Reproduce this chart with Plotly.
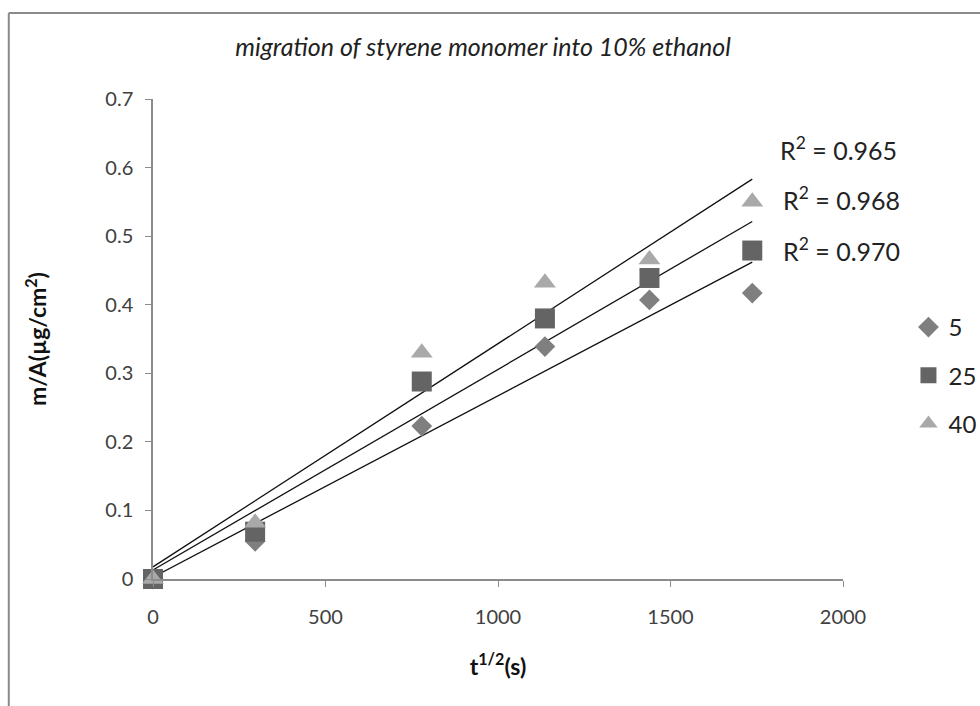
import numpy as np
import plotly.graph_objects as go

# ---- data ----
x_vals = [0, 296, 779, 1136, 1439, 1737]
series_names = ["5", "25", "40"]
y_5 = [0, 0.055, 0.223, 0.339, 0.407, 0.417]
y_25 = [0, 0.069, 0.288, 0.380, 0.439, 0.479]
y_40 = [0, 0.082, 0.330, 0.432, 0.466, 0.550]
r2_labels = ["R<sup>2</sup> = 0.965", "R<sup>2</sup> = 0.968", "R<sup>2</sup> = 0.970"]
r2_label_x = [1812, 1820, 1820]
r2_label_y = [0.628, 0.555, 0.481]

title_text = "migration of styrene monomer into 10% ethanol"
x_title = "t<sup>1/2</sup>(s)"
y_title = "m/A(µg/cm<sup>2</sup>)"

FONT = "Lato, 'Open Sans', sans-serif"

fig = go.Figure()

styles = [
    dict(symbol="diamond", color="#7f7f7f", size=16),
    dict(symbol="square", color="#646464", size=20),
    dict(symbol="triangle-up", color="#a9a9a9", size=19),
]
ys = [y_5, y_25, y_40]

# trendlines (linear least squares over data range)
for yv in ys:
    slope, icpt = np.polyfit(x_vals, yv, 1)
    xs = [min(x_vals), max(x_vals)]
    fig.add_trace(go.Scatter(x=xs, y=[icpt + slope * v for v in xs], mode="lines",
                             line=dict(color="#111111", width=1.3),
                             showlegend=False, hoverinfo="skip"))

for name, yv, st in zip(series_names, ys, styles):
    fig.add_trace(go.Scatter(x=x_vals, y=yv, mode="markers", name=name, legendgroup=name,
                             marker=dict(symbol=st["symbol"], color=st["color"], size=st["size"],
                                         line=dict(width=0)),
                             cliponaxis=False))

for txt, xx, yy in zip(r2_labels, r2_label_x, r2_label_y):
    fig.add_annotation(x=xx, y=yy, xref="x", yref="y", text=txt, showarrow=False,
                       xanchor="left", yanchor="middle",
                       font=dict(family=FONT, size=25, color="#222222"))

# chart frame (top and left edges visible)
fig.add_shape(type="line", xref="paper", yref="paper", x0=-0.209, x1=1.3, y0=1.179, y1=1.179,
              line=dict(color="#8a8a8a", width=2))
fig.add_shape(type="line", xref="paper", yref="paper", x0=-0.209, x1=-0.209, y0=-0.4, y1=1.179,
              line=dict(color="#8a8a8a", width=2))

fig.update_layout(
    width=980, height=706,
    margin=dict(l=153, r=137, t=99, b=127),
    paper_bgcolor="white", plot_bgcolor="white",
    font=dict(family=FONT, color="#333333"),
    title=dict(text=title_text, x=0.493, xanchor="center", y=0.933, yanchor="middle",
               font=dict(family=FONT, size=25, color="#222222", style="italic")),
    legend=dict(xref="container", yref="container", x=0.927, y=0.568,
                xanchor="left", yanchor="top",
                font=dict(family=FONT, size=24, color="#222222"),
                itemsizing="trace", tracegroupgap=14, bgcolor="rgba(0,0,0,0)"),
    showlegend=True,
)

fig.update_xaxes(range=[0, 2000], dtick=500, showgrid=False, zeroline=False,
                 showline=True, linecolor="#8c8c8c", linewidth=1.5,
                 ticks="outside", ticklen=6, tickcolor="#8c8c8c", ticklabelstandoff=13,
                 tickfont=dict(family=FONT, size=20, color="#404040"),
                 title=dict(text=x_title, font=dict(family=FONT, size=23, color="#111111", weight="bold"),
                            standoff=32))
fig.update_yaxes(range=[0, 0.7], dtick=0.1, showgrid=False, zeroline=False,
                 showline=True, linecolor="#8c8c8c", linewidth=1.5,
                 ticks="outside", ticklen=6, tickcolor="#8c8c8c", ticklabelstandoff=8,
                 tickfont=dict(family=FONT, size=20, color="#404040"),
                 title=dict(text=y_title, font=dict(family=FONT, size=23, color="#111111", weight="bold"),
                            standoff=52))

fig.write_html("out.html")
